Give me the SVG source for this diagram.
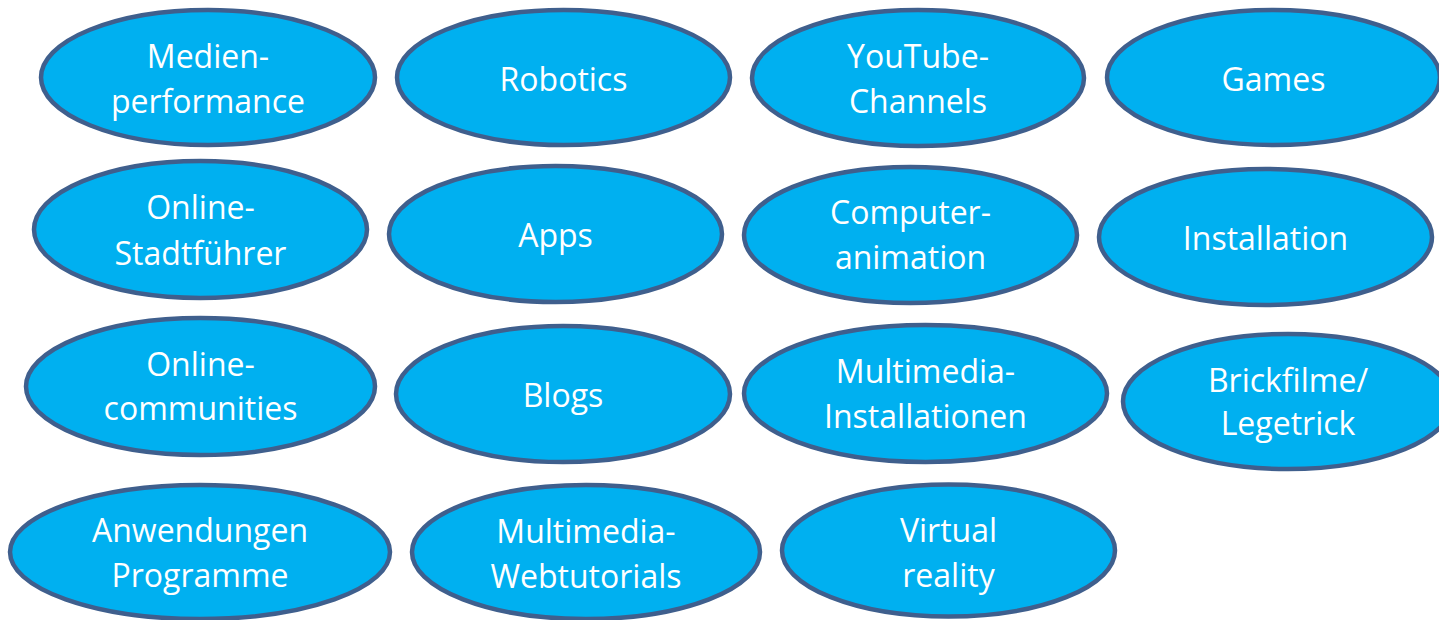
<svg xmlns="http://www.w3.org/2000/svg" width="1439" height="620" viewBox="0 0 1439 620">
<style>
.n ellipse{fill:#00B0F0;stroke:#3F5F8D;stroke-width:4.5}
.n text{font-family:"Open Sans","Noto Sans",sans-serif;font-size:32px;fill:#FFFFFF;text-anchor:middle}
</style>
<rect width="1439" height="620" fill="#FFFFFF"/>
<g id="connectors"></g>
<g id="n1" class="n"><ellipse cx="208" cy="77.5" rx="167" ry="67.5"/><text x="208" y="68">Medien-</text><text x="208" y="113">performance</text></g>
<g id="n2" class="n"><ellipse cx="563.5" cy="77.5" rx="166.5" ry="67.5"/><text x="563.5" y="91">Robotics</text></g>
<g id="n3" class="n"><ellipse cx="918" cy="78" rx="166" ry="68"/><text x="918" y="68">YouTube-</text><text x="918" y="113">Channels</text></g>
<g id="n4" class="n"><ellipse cx="1273.5" cy="77.5" rx="166.5" ry="67.5"/><text x="1273.5" y="91">Games</text></g>
<g id="n5" class="n"><ellipse cx="200.5" cy="229.5" rx="166.5" ry="68.5"/><text x="200.5" y="219">Online-</text><text x="200.5" y="265">Stadtführer</text></g>
<g id="n6" class="n"><ellipse cx="555.5" cy="234" rx="166.5" ry="68"/><text x="555.5" y="247">Apps</text></g>
<g id="n7" class="n"><ellipse cx="910.5" cy="235" rx="166.5" ry="68"/><text x="910.5" y="224">Computer-</text><text x="910.5" y="269">animation</text></g>
<g id="n8" class="n"><ellipse cx="1265.5" cy="237" rx="166.5" ry="68"/><text x="1265.5" y="250">Installation</text></g>
<g id="n9" class="n"><ellipse cx="200.5" cy="386.5" rx="174.5" ry="68.5"/><text x="200.5" y="376">Online-</text><text x="200.5" y="420">communities</text></g>
<g id="n10" class="n"><ellipse cx="563" cy="394" rx="167" ry="68"/><text x="563" y="407">Blogs</text></g>
<g id="n11" class="n"><ellipse cx="925.5" cy="393.5" rx="181.5" ry="68.5"/><text x="925.5" y="383">Multimedia-</text><text x="925.5" y="428">Installationen</text></g>
<g id="n12" class="n"><ellipse cx="1288" cy="401.5" rx="165" ry="67.5"/><text x="1288" y="392">Brickfilme/</text><text x="1288" y="435">Legetrick</text></g>
<g id="n13" class="n"><ellipse cx="200" cy="552" rx="190" ry="67"/><text x="200" y="542">Anwendungen</text><text x="200" y="587">Programme</text></g>
<g id="n14" class="n"><ellipse cx="586" cy="552" rx="174" ry="67"/><text x="586" y="543">Multimedia-</text><text x="586" y="588">Webtutorials</text></g>
<g id="n15" class="n"><ellipse cx="948.5" cy="550.5" rx="166.5" ry="66"/><text x="948.5" y="542">Virtual</text><text x="948.5" y="587">reality</text></g>
</svg>
